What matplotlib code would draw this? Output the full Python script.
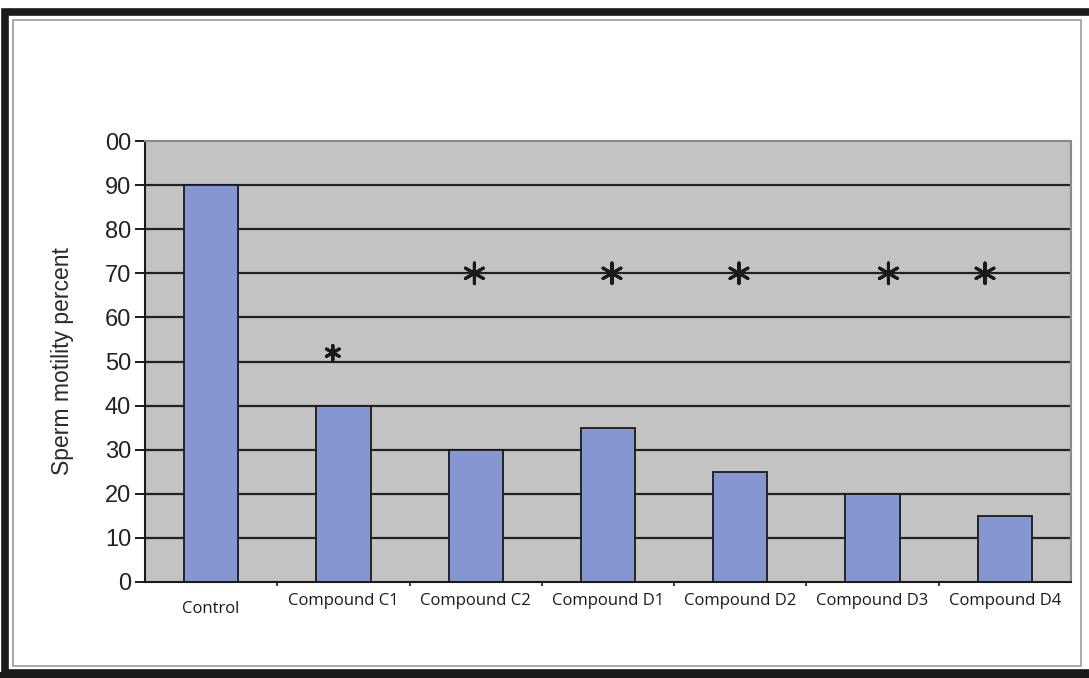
import matplotlib
matplotlib.use("Agg")
import matplotlib.pyplot as plt
from matplotlib.patches import Rectangle
import numpy as np

# sperm motility for each treatment group
groups = ["Control", "Compound C1", "Compound C2", "Compound D1",
          "Compound D2", "Compound D3", "Compound D4"]
motility = [90, 40, 30, 35, 25, 20, 15]

# significance marks: group index, x offset, height, marker size
star_groups = [1, 2, 3, 4, 5, 6]
star_offset = [-0.08, -0.01, 0.03, -0.01, 0.12, -0.15]
star_level = [52, 70, 70, 70, 70, 70]
star_size = [110, 220, 220, 220, 220, 220]

ytick_vals = [0, 10, 20, 30, 40, 50, 60, 70, 80, 90, 100]
ytick_text = ["0", "10", "20", "30", "40", "50", "60", "70", "80", "90", "00"]

fig = plt.figure(figsize=(10.89, 6.78), dpi=100)
fig.patch.set_facecolor("white")

# double border round the figure
fig.add_artist(Rectangle((5 / 1089, 5 / 678), 1.1, (666 - 5) / 678, transform=fig.transFigure,
                         fill=False, ec="#1a1a1a", lw=5.5))
fig.add_artist(Rectangle((13 / 1089, 12 / 678), (1081 - 13) / 1089, (658 - 12) / 678,
                         transform=fig.transFigure, fill=False, ec="#9a9a9a", lw=1.2))
fig.add_artist(Rectangle((0, 0), 1, 6 / 678, transform=fig.transFigure,
                         color="#1a1a1a", lw=0))

ax = fig.add_axes([145 / 1089, 96 / 678, 926 / 1089, 441 / 678])
ax.set_facecolor("#c3c3c3")
ax.set_xlim(-0.5, len(groups) - 0.5)
ax.set_ylim(0, 100)

x = np.arange(len(groups))
for v in ytick_vals[1:-1]:
    ax.axhline(v, color="#222222", lw=1.6, zorder=1)
ax.bar(x, motility, width=0.41, color="#8497d0", edgecolor="#1a1a1a", lw=1.3, zorder=2)

sx = np.array(star_groups) + np.array(star_offset)
ax.scatter(sx, star_level, s=star_size, marker=(6, 2, 0), color="#1a1a1a",
           linewidths=2.2, zorder=3)

for side in ["top", "right"]:
    ax.spines[side].set_color("#8a8a8a")
    ax.spines[side].set_linewidth(1.5)
ax.spines["left"].set_color("#1a1a1a")
ax.spines["left"].set_linewidth(1.5)
ax.spines["bottom"].set_color("#1a1a1a")
ax.spines["bottom"].set_linewidth(1.5)

ax.set_yticks(ytick_vals)
ax.set_yticklabels(ytick_text, family=["Liberation Sans Narrow", "Liberation Sans"],
                   fontsize=17, color="#222222")
ax.tick_params(axis="y", direction="out", length=7, width=1.4, pad=3, color="#1a1a1a")

ax.set_xticks(x)
ax.set_xticklabels(groups, fontsize=12, family="Open Sans", color="#1a1a1a")
ax.tick_params(axis="x", length=0, pad=8)
ax.get_xticklabels()[0].set_y(-0.018)
ax.set_xticks(np.arange(len(groups) - 1) + 0.5, minor=True)
ax.tick_params(axis="x", which="minor", direction="out", length=3, width=1.2, color="#1a1a1a")

ax.set_ylabel("Sperm motility percent", fontsize=16.5, family="Liberation Sans",
              color="#2a2a2a", labelpad=22)

fig.savefig("out.png", dpi=100, facecolor="white")
